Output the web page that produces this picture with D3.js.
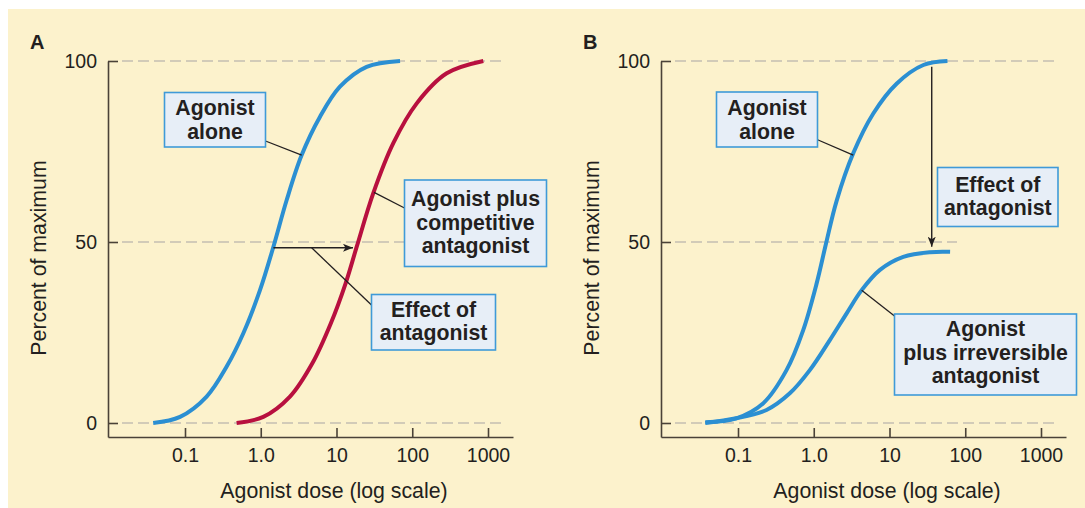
<!DOCTYPE html>
<html>
<head>
<meta charset="utf-8">
<script src="https://d3js.org/d3.v7.min.js"></script>
<style>
  html, body { margin: 0; padding: 0; background: #fff; }
  svg { display: block; }
  text { font-family: "Liberation Sans", Arial, Helvetica, sans-serif; fill: #231f20; }
</style>
</head>
<body>
<div id="graff-view"></div>
<script>
// tick values and labels
var xTickValues = [0.1, 1, 10, 100, 1000];
var xTickLabels = ["0.1", "1.0", "10", "100", "1000"];
var yTickValues = [0, 50, 100];

// panel A: agonist alone (dose, percent of maximum)
var doseAloneA = [0.038, 0.086, 0.193, 0.355, 0.589, 0.977, 1.47, 2.20, 3.47, 6.06, 11.1, 25.0, 69];
var pctAloneA  = [0, 1.7, 7.3, 15.6, 24.8, 36.7, 48.7, 61.6, 74.0, 84.6, 92.9, 98.4, 100];

// panel A: agonist plus competitive antagonist
var doseCompA = [0.48, 1.08, 2.43, 4.8, 8.4, 13.2, 18.5, 30.6, 56.2, 114.6, 285, 867];
var pctCompA  = [0, 1.7, 7.3, 16.5, 27.5, 38.6, 48.7, 63.5, 77.3, 88.3, 96.6, 100];

// panel B: agonist alone
var doseAloneB = [0.037, 0.095, 0.214, 0.437, 0.724, 1.09, 1.45, 2.00, 3.32, 6.11, 12.5, 28.0, 58.2];
var pctAloneB  = [0.2, 1.3, 5.4, 14.6, 25.6, 38.5, 49.5, 61.3, 74.5, 85.5, 93.8, 98.9, 100];

// panel B: agonist plus irreversible antagonist
var doseIrrB = [0.037, 0.095, 0.238, 0.483, 0.887, 1.63, 2.72, 4.29, 7.48, 15.2, 34.4, 63.1];
var pctIrrB  = [0, 1.3, 3.6, 8.2, 14.6, 22.9, 30.3, 36.7, 42.3, 45.9, 47.2, 47.3];

var W = 1085, H = 508;
var BLUE = "#2b8fd2", RED = "#b8103f", INK = "#231f20", AXIS = "#4a4238";
var GRID = "#c4bfb1", BOXFILL = "#e7eef7", BOXLINE = "#3f9ad8";

function pts(doses, pcts) {
  return doses.map(function (d, i) { return { dose: d, pct: pcts[i] }; });
}

var svg = d3.select("#graff-view").append("svg")
  .attr("width", W).attr("height", H);

svg.append("rect")
  .attr("x", 8).attr("y", 9)
  .attr("width", W - 8).attr("height", H - 9)
  .attr("fill", "#fcf2cc");

var defs = svg.append("defs");
defs.append("marker")
  .attr("id", "head")
  .attr("viewBox", "0 0 10 8")
  .attr("refX", 10).attr("refY", 4)
  .attr("markerWidth", 10).attr("markerHeight", 8)
  .attr("markerUnits", "userSpaceOnUse")
  .attr("orient", "auto")
  .append("path")
  .attr("d", "M0,0 L10,4 L0,8 L2.5,4 Z")
  .attr("fill", INK);

function panel(cfg) {
  var g = svg.append("g").attr("transform", "translate(" + cfg.dx + ",0)");

  var x = d3.scaleLog().domain([0.1, 1000]).range([185, 488]);
  var y = d3.scaleLinear().domain([0, 100]).range([423, 61]);

  // dashed guide lines
  g.selectAll("line.grid")
    .data(yTickValues)
    .enter().append("line")
    .attr("class", "grid")
    .attr("x1", 122)
    .attr("x2", function (d) { return d === 50 ? cfg.midGridEnd : 503; })
    .attr("y1", function (d) { return y(d); })
    .attr("y2", function (d) { return y(d); })
    .attr("stroke", GRID).attr("stroke-width", 1.6)
    .attr("stroke-dasharray", "11,5");

  // axes
  var xa = x.copy().domain([x.invert(108), x.invert(513)]).range([108, 513]);
  var ya = y.copy().domain([y.invert(437), 100]).range([437, 61]);

  var gx = g.append("g")
    .attr("transform", "translate(0,437)")
    .call(d3.axisBottom(xa)
      .tickValues(xTickValues)
      .tickFormat(function (d, i) { return xTickLabels[i]; })
      .tickSizeInner(-9).tickSizeOuter(0).tickPadding(11));

  var gy = g.append("g")
    .attr("transform", "translate(108,0)")
    .call(d3.axisLeft(ya)
      .tickValues(yTickValues)
      .tickSizeInner(-10).tickSizeOuter(0).tickPadding(11));

  [gx, gy].forEach(function (a) {
    a.select(".domain").attr("stroke", AXIS).attr("stroke-width", 1.6);
    a.selectAll(".tick line").attr("stroke", AXIS).attr("stroke-width", 1.6);
    a.selectAll(".tick text")
      .attr("fill", INK)
      .style("font-family", '"Liberation Sans", Arial, sans-serif')
      .style("font-size", "19.5px");
  });

  // titles
  g.append("text")
    .attr("x", 30).attr("y", 49)
    .style("font-size", "20px").style("font-weight", "bold")
    .text(cfg.letter);

  g.append("text")
    .attr("x", 334).attr("y", 498)
    .attr("text-anchor", "middle")
    .style("font-size", "21.3px")
    .text("Agonist dose (log scale)");

  g.append("text")
    .attr("transform", "translate(46,258) rotate(-90)")
    .attr("text-anchor", "middle")
    .style("font-size", "21.3px")
    .text("Percent of maximum");

  // curves
  var line = d3.line()
    .x(function (d) { return x(d.dose); })
    .y(function (d) { return y(d.pct); })
    .curve(d3.curveCatmullRom.alpha(0.5));

  cfg.curves.forEach(function (c) {
    g.append("path")
      .datum(c.data)
      .attr("d", line)
      .attr("fill", "none")
      .attr("stroke", c.color)
      .attr("stroke-width", 4)
      .attr("stroke-linecap", "butt");
  });

  // effect arrow
  var a = cfg.arrow;
  g.append("line")
    .attr("x1", x(a[0][0])).attr("y1", y(a[0][1]))
    .attr("x2", x(a[1][0])).attr("y2", y(a[1][1]))
    .attr("stroke", INK).attr("stroke-width", 1.4)
    .attr("marker-end", "url(#head)");

  // callout boxes with leader lines
  cfg.notes.forEach(function (n) {
    if (n.to) {
      g.append("line")
        .attr("x1", n.from[0]).attr("y1", n.from[1])
        .attr("x2", x(n.to[0])).attr("y2", y(n.to[1]))
        .attr("stroke", INK).attr("stroke-width", 1.3);
    }

    g.append("rect")
      .attr("x", n.box[0]).attr("y", n.box[1])
      .attr("width", n.box[2]).attr("height", n.box[3])
      .attr("fill", BOXFILL)
      .attr("stroke", BOXLINE).attr("stroke-width", 1.6);

    n.lines.forEach(function (t, i) {
      g.append("text")
        .attr("x", n.box[0] + n.box[2] / 2)
        .attr("y", n.base + i * 23.5)
        .attr("text-anchor", "middle")
        .style("font-size", "21.3px").style("font-weight", "bold")
        .text(t);
    });
  });
}

panel({
  dx: 0,
  letter: "A",
  midGridEnd: 503,
  curves: [
    { data: pts(doseAloneA, pctAloneA), color: BLUE },
    { data: pts(doseCompA, pctCompA), color: RED }
  ],
  arrow: [[1.47, 48.4], [16.5, 48.4]],
  notes: [
    { box: [164.5, 92.5, 101, 54.5], base: 115, from: [265.5, 141], to: [3.47, 74],
      lines: ["Agonist", "alone"] },
    { box: [404.5, 180, 142, 86.5], base: 206, from: [404.5, 208], to: [31.3, 63.7],
      lines: ["Agonist plus", "competitive", "antagonist"] },
    { box: [371.5, 294.5, 124, 55.5], base: 316.5, from: [371.5, 305], to: [4.7, 48.4],
      lines: ["Effect of", "antagonist"] }
  ]
});

panel({
  dx: 553,
  letter: "B",
  midGridEnd: 404,
  curves: [
    { data: pts(doseAloneB, pctAloneB), color: BLUE },
    { data: pts(doseIrrB, pctIrrB), color: BLUE }
  ],
  arrow: [[36.1, 98.4], [36.1, 48.7]],
  notes: [
    { box: [163.5, 92, 101, 55], base: 115, from: [264, 139.5], to: [3.32, 74],
      lines: ["Agonist", "alone"] },
    { box: [384.5, 167.5, 120.5, 59], base: 191.5,
      lines: ["Effect of", "antagonist"] },
    { box: [341.5, 314, 182, 81], base: 336, from: [341.5, 316], to: [4.29, 36.7],
      lines: ["Agonist", "plus irreversible", "antagonist"] }
  ]
});
</script>
</body>
</html>
